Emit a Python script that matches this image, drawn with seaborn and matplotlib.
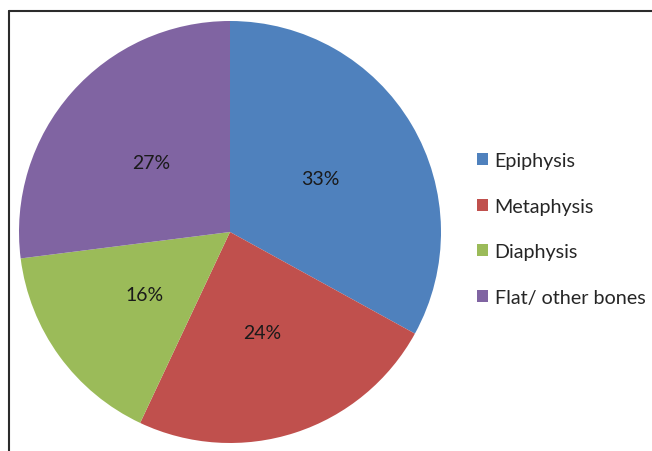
import matplotlib
matplotlib.use("Agg")
import matplotlib.pyplot as plt
from matplotlib.lines import Line2D
from matplotlib.patches import Patch
import seaborn as sns

# data
categories = ["Epiphysis", "Metaphysis", "Diaphysis", "Flat/ other bones"]
shares = [33, 24, 16, 27]
colors = ["#4F81BD", "#C0504D", "#9BBB59", "#8064A2"]

W, H = 652, 452
sns.set_theme(style="white")
plt.rcParams["font.family"] = ["Lato", "DejaVu Sans"]

fig = plt.figure(figsize=(W / 100, H / 100), dpi=100)

# pie centre (230, 233) px, radius 211 px
cx, cy, r = 230, 233, 211
ax = fig.add_axes([(cx - r) / W, (H - cy - r) / H, 2 * r / W, 2 * r / H])
palette = sns.color_palette(colors)

wedges, texts, autotexts = ax.pie(
    shares,
    colors=palette,
    startangle=90,
    counterclock=False,
    radius=1.0,
    autopct="%d%%",
    pctdistance=0.5,
    wedgeprops={"linewidth": 0},
    textprops={"fontsize": 14, "color": "#1a1a1a"},
)
ax.set_xlim(-1, 1)
ax.set_ylim(-1, 1)
ax.set_aspect("auto")
ax.axis("off")

# legend to the right
handles = [Patch(facecolor=c, edgecolor="none") for c in palette]
fig.legend(
    handles, categories,
    loc="center left",
    bbox_to_anchor=(477 / W, 1 - 230 / H),
    frameon=False,
    fontsize=14.2,
    handlelength=0.55,
    handleheight=0.55,
    handletextpad=0.35,
    labelspacing=1.45,
    borderaxespad=0,
    borderpad=0,
)

# chart-area frame (left and top edges visible)
x0, y0 = 9 / W, 1 - 12 / H
fig.add_artist(Line2D([x0, 1.0], [y0, y0], color="#2b2b2b", linewidth=1.5, transform=fig.transFigure))
fig.add_artist(Line2D([x0, x0], [y0, 0.0], color="#2b2b2b", linewidth=1.5, transform=fig.transFigure))

fig.savefig("out.png", dpi=100)
plt.close(fig)
